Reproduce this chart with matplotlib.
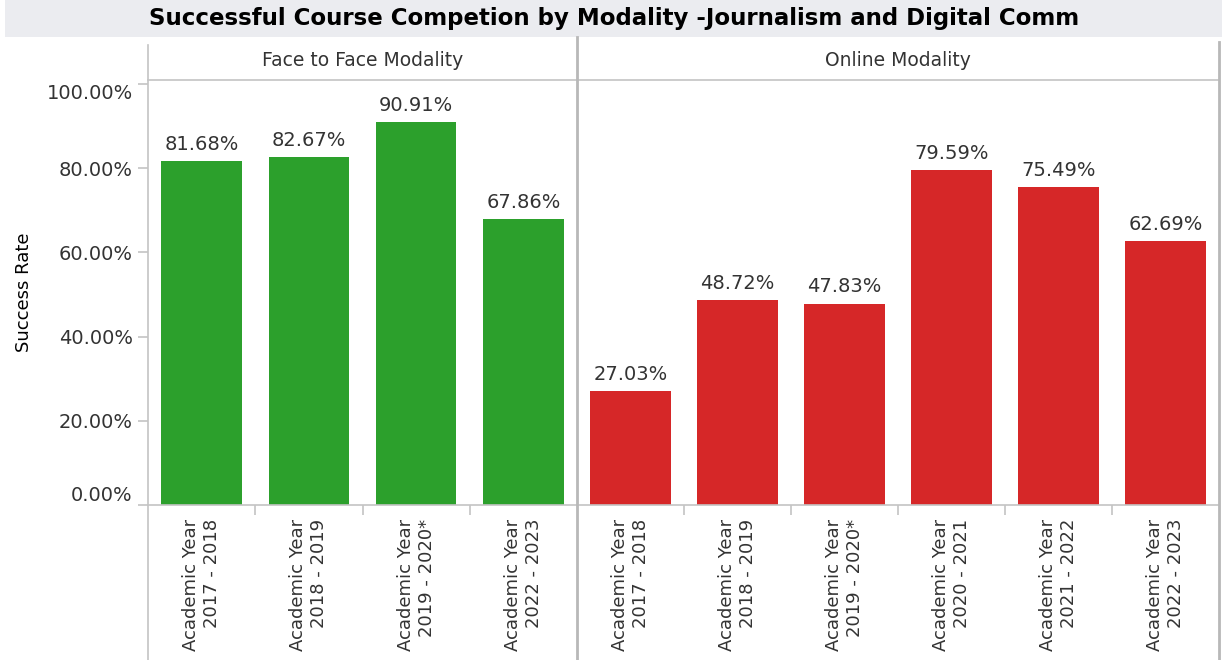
import matplotlib
matplotlib.use('Agg')
import matplotlib.pyplot as plt
from matplotlib.lines import Line2D
from matplotlib.patches import Rectangle
from matplotlib.ticker import FixedLocator

# success rate per academic year, split by modality
f2f_years = ['Academic Year\n2017 - 2018', 'Academic Year\n2018 - 2019',
             'Academic Year\n2019 - 2020*', 'Academic Year\n2022 - 2023']
f2f_rate = [0.8168, 0.8267, 0.9091, 0.6786]

online_years = ['Academic Year\n2017 - 2018', 'Academic Year\n2018 - 2019',
                'Academic Year\n2019 - 2020*', 'Academic Year\n2020 - 2021',
                'Academic Year\n2021 - 2022', 'Academic Year\n2022 - 2023']
online_rate = [0.2703, 0.4872, 0.4783, 0.7959, 0.7549, 0.6269]

y_ticks = [0.0, 0.2, 0.4, 0.6, 0.8, 1.0]

plt.rcParams['font.family'] = ['DejaVu Sans']
W, H = 1225, 660
fig = plt.figure(figsize=(W / 100, H / 100), dpi=100)

def fx(px):
    return px / W

def fy(py):
    return 1 - py / H

GRID = '#c4c4c4'
TXT = '#333333'

# title strip
fig.patches.append(Rectangle((fx(5), fy(37)), fx(1217), 37 / H, transform=fig.transFigure,
                             facecolor='#ebecf0', edgecolor='none', zorder=0))
fig.text(fx(614), fy(19), 'Successful Course Competion by Modality -Journalism and Digital Comm',
         ha='center', va='center', fontsize=16.5, fontweight='bold', color='black')

x_left, x_mid, x_right = 148, 577, 1219
y_top, y_bot = 80, 505
ax1 = fig.add_axes([fx(x_left), fy(y_bot), fx(x_mid - x_left), (y_bot - y_top) / H])
ax2 = fig.add_axes([fx(x_mid), fy(y_bot), fx(x_right - x_mid), (y_bot - y_top) / H])

def draw_panel(ax, cats, vals, color, header):
    pos = list(range(len(cats)))
    bars = ax.bar(pos, vals, width=0.75, color=color, zorder=2)
    for b, v in zip(bars, vals):
        ax.text(b.get_x() + b.get_width() / 2, v + 0.017, f'{v * 100:.2f}%',
                ha='center', va='bottom', fontsize=14, color=TXT)
    ax.set_xlim(-0.5, len(cats) - 0.5)
    ax.set_ylim(0, 1.0095)
    ax.set_xticks(pos)
    ax.set_xticklabels(cats, rotation=90, ha='center', va='top', multialignment='right',
                       fontsize=13, color=TXT)
    ax.xaxis.set_minor_locator(FixedLocator([p + 0.5 for p in pos[:-1]]))
    ax.tick_params(axis='x', which='major', length=0, pad=10)
    ax.tick_params(axis='x', which='minor', length=7, color=GRID, width=1.2)
    for s in ax.spines.values():
        s.set_color(GRID)
        s.set_linewidth(1.2)
    ax.spines['left'].set_visible(False)
    ax.spines['right'].set_visible(False)
    ax.text(0.5, (y_top - 60) / (y_bot - y_top) + 1, header, transform=ax.transAxes,
            ha='center', va='center', fontsize=13.5, color=TXT)

draw_panel(ax1, f2f_years, f2f_rate, '#2ca02c', 'Face to Face Modality')
draw_panel(ax2, online_years, online_rate, '#d62728', 'Online Modality')

ax1.set_yticks(y_ticks)
ax1.set_yticklabels([f'{t * 100:.2f}%' for t in y_ticks], fontsize=14, color=TXT)
ax1.tick_params(axis='y', length=7, color=GRID, width=1.2, pad=4)
for lab, t in zip(ax1.get_yticklabels(), y_ticks):
    if t == 1.0:
        lab.set_va('top')
    elif t == 0.0:
        lab.set_va('bottom')
ax1.set_ylabel('Success Rate', fontsize=13, color='black')
ax1.yaxis.set_label_coords(fx(33 - x_left) / fx(x_mid - x_left), 0.5)
ax2.set_yticks([])

# panel borders running through header and label area
for x, y0, lw, c in [(x_left, 45, 1.2, GRID), (x_mid, 37, 2.0, '#b8b8b8'), (x_right, 42, 2.0, '#b8b8b8')]:
    fig.lines.append(Line2D([fx(x), fx(x)], [fy(y0), 0], transform=fig.transFigure,
                            color=c, linewidth=lw, zorder=5))

fig.savefig('out.png', dpi=100, facecolor='white')
